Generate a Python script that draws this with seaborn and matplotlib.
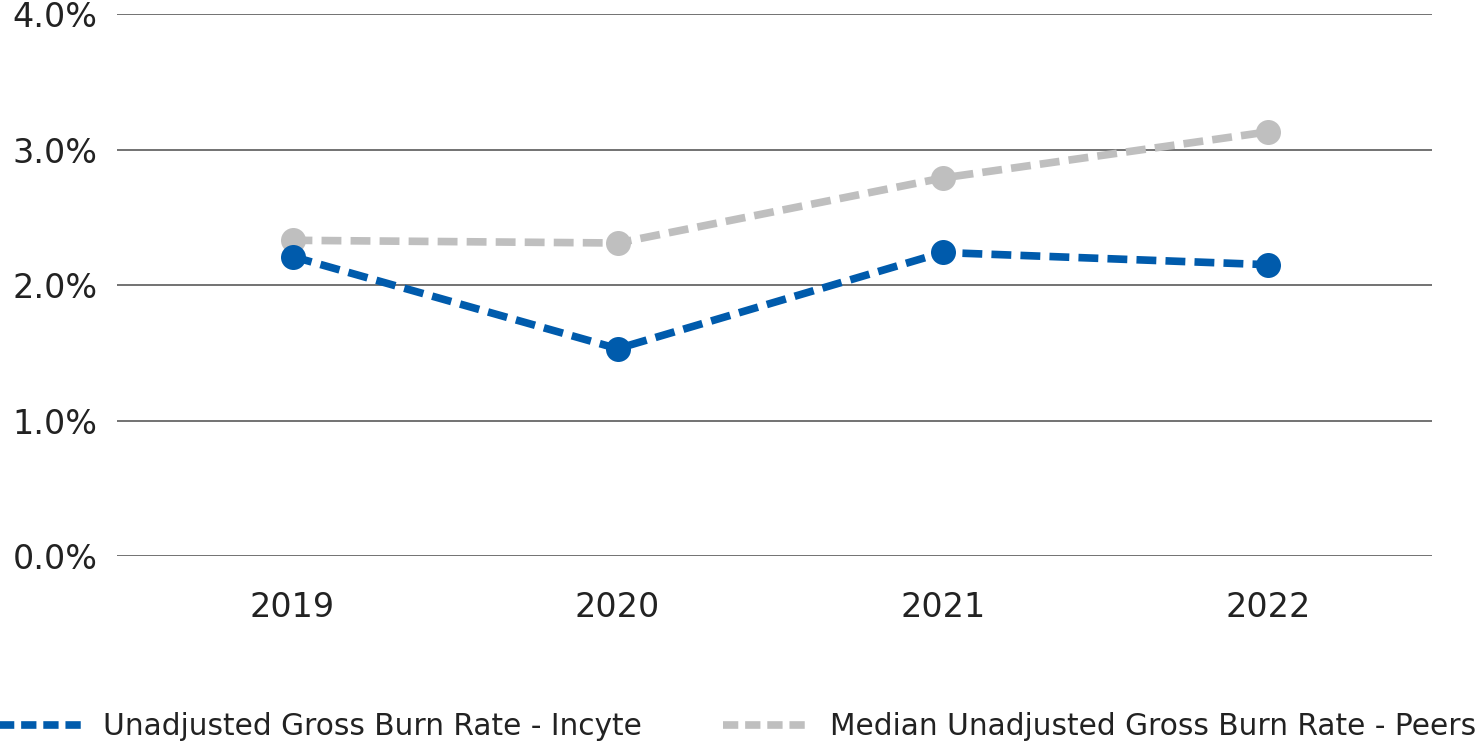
import pandas as pd
import matplotlib.pyplot as plt
import seaborn as sns
from matplotlib.lines import Line2D

years = ['2019', '2020', '2021', '2022']
incyte = [2.21, 1.53, 2.24, 2.15]
peers = [2.33, 2.31, 2.79, 3.13]
y_ticks = [0, 1, 2, 3, 4]
labels = ['Unadjusted Gross Burn Rate - Incyte', 'Median Unadjusted Gross Burn Rate - Peers']

blue = '#005BAC'
grey = '#BFBFBF'

df = pd.DataFrame({'year': years, 'incyte': incyte, 'peers': peers})

sns.set_style('white')
plt.rcParams['font.family'] = ['DejaVu Sans']

fig = plt.figure(figsize=(14.75, 7.46), dpi=100)
ax = fig.add_axes([0.0793, 0.2547, 0.8915, 0.7265])

dash = (0, (2.6, 1.2))
sns.lineplot(data=df, x='year', y='peers', ax=ax, color=grey, linewidth=5.5,
             linestyle=dash, marker='o', markersize=18, markeredgewidth=0)
sns.lineplot(data=df, x='year', y='incyte', ax=ax, color=blue, linewidth=5.5,
             linestyle=dash, marker='o', markersize=18, markeredgewidth=0)

ax.set_ylim(0, 4)
ax.set_xlim(-0.54, 3.505)
ax.set_yticks(y_ticks)
ax.set_yticklabels([f'{v:.1f}%' for v in y_ticks])
ax.yaxis.grid(True, color='#5a5a5a', linewidth=1.2)
ax.xaxis.grid(False)
for s in ax.spines.values():
    s.set_visible(False)
ax.tick_params(axis='both', labelsize=24, colors='#222222', length=0)
ax.tick_params(axis='y', pad=14)
ax.tick_params(axis='x', pad=25)
ax.set_xlabel('')
ax.set_ylabel('')

handles = [Line2D([], [], color=blue, linewidth=5.5, linestyle=(0, (2.0, 0.9))),
           Line2D([], [], color=grey, linewidth=5.5, linestyle=(0, (2.0, 0.9)))]
leg = fig.legend(handles, labels, loc='center', bbox_to_anchor=(0.499, 0.0255),
                 ncol=2, frameon=False, fontsize=21.3, handlelength=2.97,
                 handletextpad=0.64, columnspacing=2.74, borderaxespad=0)
for t in leg.get_texts():
    t.set_color('#222222')

fig.savefig('out.png', dpi=100)
